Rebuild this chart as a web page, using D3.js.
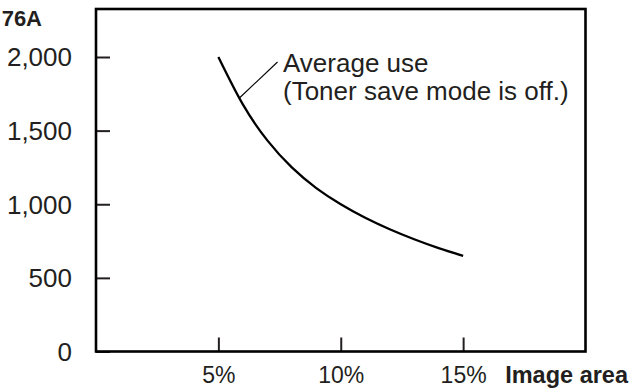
<!DOCTYPE html>
<html>
<head>
<meta charset="utf-8">
<script src="https://cdn.jsdelivr.net/npm/d3@7"></script>
<style>
  html, body { margin: 0; padding: 0; background: #fff; }
  svg { display: block; font-family: "Liberation Sans", Arial, sans-serif; }
</style>
</head>
<body>
<svg id="chart" width="633" height="388"></svg>
<script>
// Page yield versus image coverage
const imageArea = [5, 6, 7, 8, 9, 10, 11, 12, 13, 14, 15];
const pageYield = [2000, 1678, 1434, 1250, 1110, 1000, 908, 830, 762, 702, 650];
const xTickValues = [5, 10, 15];
const yTickValues = [0, 500, 1000, 1500, 2000];
const modelLabel = "76A";
const xTitle = "Image area";
const seriesLabel = ["Average use", "(Toner save mode is off.)"];

const ink = "#231f20";
const svg = d3.select("#chart");

const plot = { left: 96, right: 585.5, top: 9, bottom: 351.5 };

const x = d3.scaleLinear().domain([0, 20]).range([plot.left, plot.right]);
const y = d3.scaleLinear().domain([0, 2000]).range([plot.bottom, 57]);

// Y axis: inward ticks, labels to the left
const yAxis = svg.append("g")
  .attr("transform", `translate(${plot.left},0)`)
  .call(d3.axisLeft(y).tickValues(yTickValues).tickSize(-14).tickPadding(24)
    .tickFormat(d3.format(",")));
yAxis.select(".domain").remove();
yAxis.selectAll("line").attr("stroke", ink).attr("stroke-width", 2);
yAxis.selectAll("text").attr("fill", ink).attr("font-size", 26).attr("dy", "0.34em");

// X axis: upward ticks, labels below
const xAxis = svg.append("g")
  .attr("transform", `translate(0,${plot.bottom})`)
  .call(d3.axisBottom(x).tickValues(xTickValues).tickSize(-14).tickPadding(15)
    .tickFormat(d => d + "%"));
xAxis.select(".domain").remove();
xAxis.selectAll("line").attr("stroke", ink).attr("stroke-width", 2);
xAxis.selectAll("text").attr("fill", ink).attr("font-size", 23);

// Plot frame
svg.append("rect")
  .attr("x", plot.left).attr("y", plot.top)
  .attr("width", plot.right - plot.left).attr("height", plot.bottom - plot.top)
  .attr("fill", "none").attr("stroke", "#000").attr("stroke-width", 2.6);

// Yield curve
const line = d3.line()
  .x((d, i) => x(imageArea[i]))
  .y(d => y(d))
  .curve(d3.curveNatural);
svg.append("path")
  .datum(pageYield)
  .attr("d", line)
  .attr("fill", "none")
  .attr("stroke", "#000")
  .attr("stroke-width", 2.3);

// Leader line and series label
const leaderAt = 5.85;
svg.append("line")
  .attr("x1", x(leaderAt)).attr("y1", y(1720))
  .attr("x2", 277.5).attr("y2", 62)
  .attr("stroke", "#000").attr("stroke-width", 1.1);

const label = svg.append("text")
  .attr("x", 283).attr("y", 71.5)
  .attr("fill", ink).attr("font-size", 26);
label.selectAll("tspan").data(seriesLabel).join("tspan")
  .attr("x", 283)
  .attr("dy", (d, i) => i === 0 ? 0 : 28.5)
  .text(d => d);

// Axis title and model label
svg.append("text")
  .attr("x", 628).attr("y", 383)
  .attr("text-anchor", "end")
  .attr("font-size", 23.5).attr("font-weight", "bold")
  .attr("fill", ink).text(xTitle);

svg.append("text")
  .attr("x", 42).attr("y", 26)
  .attr("text-anchor", "end")
  .attr("font-size", 22).attr("font-weight", "bold")
  .attr("fill", ink).text(modelLabel);
</script>
</body>
</html>
